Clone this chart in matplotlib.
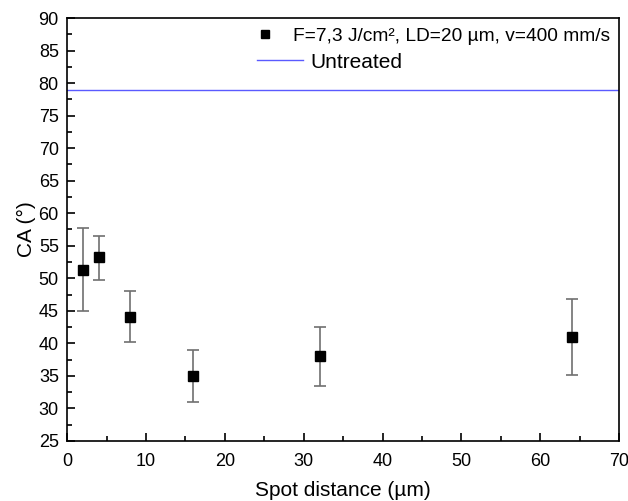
import matplotlib.pyplot as plt
from matplotlib.lines import Line2D
from matplotlib.ticker import MultipleLocator

plt.rcParams['font.family'] = ['Liberation Sans', 'DejaVu Sans']

# data
spot_distance = [2, 4, 8, 16, 32, 64]
ca_mean = [51.3, 53.2, 44.1, 35.0, 38.0, 41.0]
ca_low = [45.0, 49.8, 40.2, 31.0, 33.5, 35.2]
ca_high = [57.7, 56.5, 48.1, 39.0, 42.5, 46.8]
untreated_ca = 78.9

err_lo = [m - l for m, l in zip(ca_mean, ca_low)]
err_hi = [h - m for m, h in zip(ca_mean, ca_high)]

fig = plt.figure(figsize=(6.28, 5.01), dpi=100)
ax = fig.add_axes([0.107, 0.12, 0.879, 0.844])

ax.errorbar(spot_distance, ca_mean, yerr=[err_lo, err_hi], fmt='s', color='black',
            markersize=7.5, ecolor='#707070', elinewidth=1.2, capsize=4, capthick=1.2)
ax.axhline(untreated_ca, color='#5a5aff', lw=1)

ax.set_xlim(0, 70)
ax.set_ylim(25, 90)
ax.xaxis.set_major_locator(MultipleLocator(10))
ax.xaxis.set_minor_locator(MultipleLocator(5))
ax.yaxis.set_major_locator(MultipleLocator(5))
ax.yaxis.set_minor_locator(MultipleLocator(2.5))
ax.tick_params(which='both', direction='in', top=False, right=False, labelsize=13)
ax.tick_params(axis='x', which='both', pad=9)
ax.tick_params(axis='y', which='both', pad=6)
ax.tick_params(which='major', length=6, width=1.2)
ax.tick_params(which='minor', length=3.5, width=1.2)
for s in ax.spines.values():
    s.set_linewidth(1.2)

ax.set_xlabel('Spot distance (µm)', fontsize=15, labelpad=8)
ax.set_ylabel('CA (°)', fontsize=15, labelpad=2)

# two separate legends, the reference has them with different text sizes / offsets
sq = Line2D([], [], ls='none', marker='s', color='black', markersize=6)
leg1 = ax.legend([sq], ['F=7,3 J/cm², LD=20 µm, v=400 mm/s'], loc='center left',
                 bbox_to_anchor=(0.333, 0.957), frameon=False, fontsize=13.8,
                 borderpad=0, borderaxespad=0, handlelength=1.45, handletextpad=0.72)
ax.add_artist(leg1)
ln = Line2D([], [], color='#5a5aff', lw=1)
ax.legend([ln], ['Untreated'], loc='center left', bbox_to_anchor=(0.344, 0.896),
          frameon=False, fontsize=15, borderpad=0, borderaxespad=0,
          handlelength=2.2, handletextpad=0.34)

fig.savefig('out.png', dpi=100)
